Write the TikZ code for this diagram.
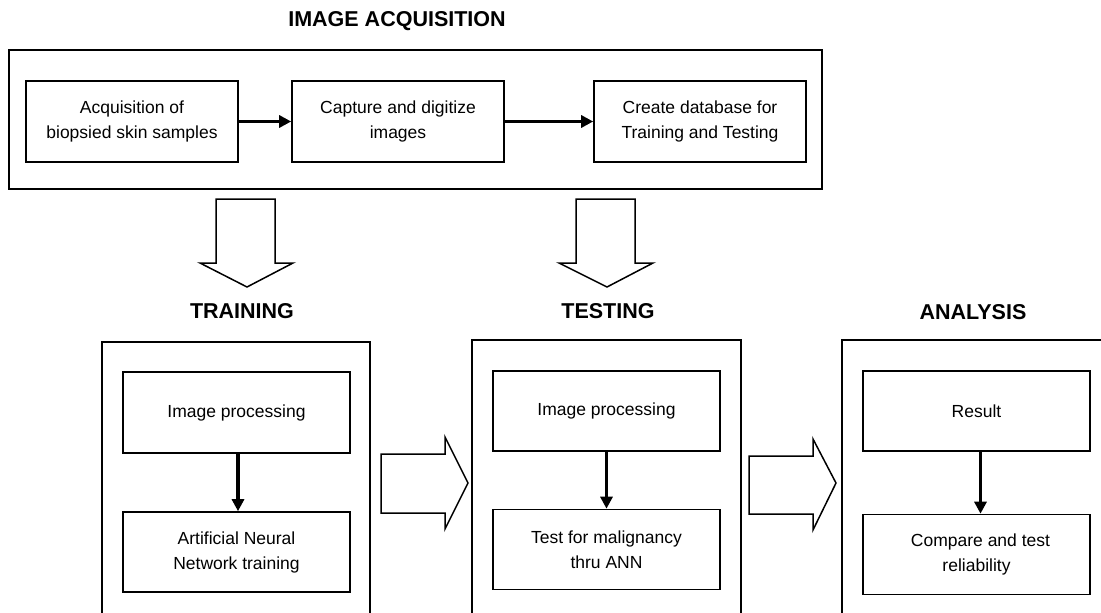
\documentclass[tikz,border=0pt]{standalone}
\usepackage{fontspec}
\setmainfont{Liberation Sans}
\usetikzlibrary{arrows.meta}
\begin{document}
\begin{tikzpicture}[x=1pt,y=-1pt,
  outer/.style={draw, line width=1.6pt, inner sep=0pt},
  inbox/.style={draw, line width=1.6pt, inner sep=0pt, align=center,
    minimum width=227pt, minimum height=80pt,
    font=\fontsize{17.5}{25}\selectfont},
  topbox/.style={inbox, minimum width=212pt, minimum height=81pt},
  head/.style={inner sep=0pt, font=\bfseries\fontsize{21.5}{24}\selectfont},
  flow/.style={-{Triangle[length=12pt,width=12pt]}, line width=3.2pt},
  blockarrow/.style={draw, line width=1.5pt, fill=white, line join=miter}]
\clip (0,0) rectangle (1101,613);
\fill[white] (0,0) rectangle (1101,613);

% image acquisition
\node[head] (hacq) at (397,21) {IMAGE ACQUISITION};
\node[outer, minimum width=813pt, minimum height=139pt] (acq) at (415.5,119.5) {};
\node[topbox] (a1) at (132,121.5) {Acquisition of\\biopsied skin samples};
\node[topbox] (a2) at (398,121.5) {Capture and digitize\\images};
\node[topbox] (a3) at (700,121.5) {Create database for\\Training and Testing};
\draw[flow] (a1.east) -- (a2.west);
\draw[flow] (a2.east) -- (a3.west);

% down block arrows
\draw[blockarrow] (216,199) -- (275,199) -- (275,263) -- (293,263) -- (247,287)
  -- (200,263) -- (216,263) -- cycle;
\draw[blockarrow] (576,199) -- (635,199) -- (635,263) -- (653,263) -- (607,287)
  -- (559,263) -- (576,263) -- cycle;

% headings
\node[head] (htrain) at (242,311) {TRAINING};
\node[head] (htest) at (608,311) {TESTING};
\node[head] (hana) at (973,312) {ANALYSIS};

% outer column boxes
\node[outer, minimum width=268pt, minimum height=300pt] (train) at (236,492) {};
\node[outer, minimum width=269pt, minimum height=300pt] (test) at (606.5,490) {};
\node[outer, minimum width=290pt, minimum height=300pt] (ana) at (987,490) {};

% inner boxes
\node[inbox, minimum height=81pt] (t1) at (236.5,412.5) {Image processing};
\node[inbox] (t2) at (236.5,552) {Artificial Neural\\Network training};
\node[inbox] (s1) at (606.5,411) {Image processing};
\node[inbox] (s2) at (606.5,549.5) {Test for malignancy\\thru ANN};
\node[inbox] (r1) at (976.5,411) {Result};
\node[inbox] (r2) at (976.5,554.5) {\hspace*{8pt}Compare and test\\reliability};

\draw[flow] ([xshift=1.5pt]t1.south) -- ([xshift=1.5pt]t2.north);
\draw[flow] (s1.south) -- (s2.north);
\draw[flow] ([xshift=4pt]r1.south) -- ([xshift=4pt]r2.north);

% right block arrows
\draw[blockarrow] (381,454) -- (445,454) -- (445,437) -- (468,483) -- (445,529)
  -- (445,513) -- (381,513) -- cycle;
\draw[blockarrow] (749,456) -- (813,456) -- (813,439) -- (836,483) -- (813,530)
  -- (813,514) -- (749,514) -- cycle;
\end{tikzpicture}
\end{document}
